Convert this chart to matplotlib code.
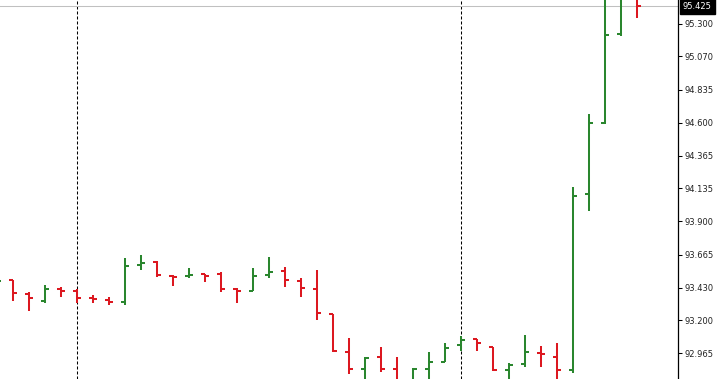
"""Hourly OHLC bar chart, terminal style, price scale on the right."""

import matplotlib
matplotlib.use("Agg")
import matplotlib.pyplot as plt
import matplotlib.transforms as mtransforms

opens = [93.464, 93.485, 93.386, 93.336, 93.421, 93.407, 93.357, 93.343, 93.329, 93.591,
         93.612, 93.513, 93.513, 93.527, 93.527, 93.421, 93.407, 93.520, 93.549, 93.478,
         93.421, 93.244, 92.974, 92.854, 92.939, 92.854, 92.740, 92.854, 92.903, 93.024,
         93.066, 93.010, 92.847, 92.889, 92.967, 92.939, 92.847, 94.095, 94.598, 95.229,
         95.484]
highs = [93.499, 93.485, 93.400, 93.449, 93.435, 93.421, 93.378, 93.364, 93.641, 93.662,
         93.620, 93.520, 93.570, 93.527, 93.542, 93.428, 93.570, 93.648, 93.577, 93.499,
         93.556, 93.244, 93.074, 92.939, 93.010, 92.939, 92.861, 92.974, 93.038, 93.088,
         93.066, 93.010, 92.896, 93.095, 93.017, 93.038, 94.144, 94.662, 95.505, 95.541,
         95.505]
lows = [93.449, 93.336, 93.265, 93.322, 93.364, 93.322, 93.322, 93.308, 93.308, 93.556,
        93.506, 93.442, 93.499, 93.471, 93.400, 93.322, 93.407, 93.499, 93.435, 93.364,
        93.201, 92.974, 92.818, 92.740, 92.833, 92.705, 92.705, 92.740, 92.903, 92.981,
        92.981, 92.840, 92.740, 92.868, 92.868, 92.740, 92.825, 93.974, 94.591, 95.215,
        95.342]
closes = [93.478, 93.393, 93.357, 93.421, 93.407, 93.357, 93.350, 93.329, 93.584, 93.605,
          93.520, 93.506, 93.520, 93.513, 93.421, 93.407, 93.513, 93.542, 93.485, 93.428,
          93.251, 92.981, 92.854, 92.932, 92.854, 92.762, 92.854, 92.903, 93.003, 93.059,
          93.038, 92.847, 92.882, 92.974, 92.960, 92.847, 94.080, 94.598, 95.222, 95.491,
          95.425]

price_ticks = [92.965, 93.200, 93.430, 93.665, 93.900, 94.135, 94.365, 94.600, 94.835, 95.070, 95.300]
separators = [5, 29]
last_price = 95.425

UP = "#2a862e"
DOWN = "#dc1820"

fig = plt.figure(figsize=(7.21, 3.79), dpi=100)
ax = fig.add_axes([0, 0, 678 / 721, 1])

ax.set_xlim(0.1875, 42.5625)
ax.set_ylim(92.783, 95.470)

for x in separators:
    ax.axvline(x, color="black", lw=0.75, dashes=(2.9, 1.9), zorder=1)

ax.axhline(last_price, color="#c0c0c0", lw=0.75, zorder=1)

half = 0.25
for i, (o, h, l, c) in enumerate(zip(opens, highs, lows, closes)):
    col = UP if c > o else DOWN
    ax.vlines(i, l, h, color=col, lw=1.45, zorder=3)
    ax.hlines(o, i - half, i, color=col, lw=1.45, zorder=3)
    ax.hlines(c, i, i + half, color=col, lw=1.45, zorder=3)

for side in ["left", "top", "bottom"]:
    ax.spines[side].set_visible(False)
ax.spines["right"].set_color("black")
ax.spines["right"].set_linewidth(0.9)

ax.set_xticks([])
ax.yaxis.tick_right()
ax.set_yticks(price_ticks)
ax.set_yticklabels([f"{t:.3f}" for t in price_ticks])
ax.tick_params(axis="y", length=3, width=0.75, pad=1.5, labelsize=6, labelcolor="#222222")

trans = mtransforms.blended_transform_factory(ax.transAxes, ax.transData)
ax.annotate(f"{last_price:.3f}", xy=(1, last_price), xycoords=trans,
            xytext=(3.5, 0), textcoords="offset points", ha="left", va="center",
            fontsize=6, color="white", annotation_clip=False,
            bbox=dict(boxstyle="square,pad=0.35", facecolor="black", edgecolor="black"))

fig.savefig("out.png", dpi=100)
